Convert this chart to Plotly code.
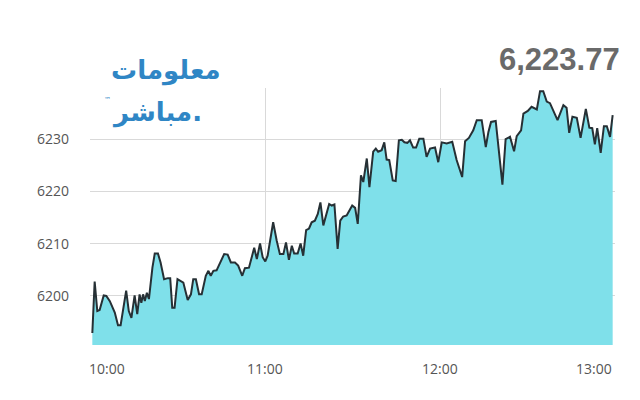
import pandas as pd
import plotly.graph_objects as go

# minutes after 10:00 and index values
minutes = [0.8, 1.6, 2.5, 3.3, 4.7, 5.6, 6.8, 8.5, 9.6, 10.5, 12.4, 13.3, 14.2, 15.3, 16.2,
           17.0, 17.6, 18.2, 18.8, 19.5, 20.2, 21.4, 22.2, 23.3, 24.2, 25.4, 26.7, 27.5,
           28.2, 29.0, 30.0, 32.0, 33.5, 34.6, 35.4, 36.3, 37.4, 38.3, 39.7, 40.6, 41.4,
           42.3, 43.4, 44.6, 46.0, 47.2, 48.3, 49.7, 50.8, 52.2, 53.1, 54.5, 55.6, 56.3,
           57.2, 58.3, 59.2, 60.1, 60.9, 62.8, 64.0, 65.1, 66.3, 67.2, 68.2, 69.2, 70.0,
           71.2, 72.2, 73.1, 74.1, 75.1, 76.0, 77.1, 78.1, 79.0, 80.0, 81.2, 82.0, 82.9,
           83.8, 84.9, 85.8, 86.8, 88.0, 88.8, 89.9, 90.9, 91.8, 92.9, 93.7, 94.9, 95.8,
           97.1, 98.0, 98.8, 100.0, 100.9, 101.7, 102.6, 103.8, 104.8, 105.9, 106.9, 107.8,
           108.8, 109.7, 110.8, 111.8, 112.9, 114.3, 115.4, 116.6, 118.3, 119.4, 120.6,
           122.3, 124.2, 125.7, 127.6, 128.6, 129.9, 131.4, 132.6, 134.3, 135.7, 136.6,
           137.5, 139.1, 141.4, 142.5, 144.0, 145.4, 146.3, 147.8, 148.6, 150.1, 151.4,
           152.3, 153.2, 154.3, 155.4, 156.6, 157.7, 160.3, 162.3, 163.4, 164.3, 165.4,
           166.9, 168.2, 170.0, 171.2, 172.2, 173.1, 173.9, 175.1, 176.2, 177.2, 178.3, 179.2]
values = [6192.9, 6202.75, 6197.1, 6197.3, 6200.1, 6200.0, 6199.0, 6196.8, 6194.4, 6194.4,
          6201.0, 6197.1, 6195.8, 6200.1, 6196.5, 6200.3, 6198.7, 6200.3, 6199.0, 6200.6,
          6199.4, 6205.4, 6208.1, 6208.1, 6206.4, 6203.2, 6203.4, 6203.4, 6197.75, 6197.75,
          6203.2, 6202.55, 6199.2, 6200.3, 6203.2, 6203.2, 6200.3, 6200.3, 6203.85, 6204.8,
          6203.85, 6204.8, 6204.9, 6206.4, 6208.0, 6207.9, 6206.4, 6206.4, 6205.8, 6203.85,
          6205.3, 6205.4, 6207.7, 6209.2, 6207.05, 6210.05, 6207.4, 6206.6, 6207.7, 6214.1,
          6210.6, 6208.0, 6208.0, 6210.25, 6206.9, 6209.6, 6208.1, 6208.1, 6210.05, 6207.7,
          6212.6, 6212.9, 6214.1, 6214.4, 6215.7, 6217.9, 6213.5, 6216.0, 6217.6, 6217.3,
          6217.5, 6209.0, 6214.4, 6215.2, 6215.4, 6216.2, 6217.3, 6216.85, 6213.8, 6223.1,
          6221.8, 6226.3, 6220.8, 6227.6, 6228.2, 6227.6, 6227.9, 6229.4, 6226.1, 6226.0,
          6222.1, 6222.0, 6229.8, 6229.9, 6229.4, 6229.3, 6229.8, 6228.4, 6228.4, 6230.1,
          6230.1, 6226.6, 6228.2, 6228.4, 6225.6, 6229.4, 6229.2, 6229.5, 6226.0, 6222.75,
          6229.6, 6230.25, 6231.7, 6233.65, 6233.65, 6228.5, 6231.4, 6233.3, 6233.5, 6221.3,
          6230.0, 6230.45, 6227.7, 6230.6, 6231.7, 6234.9, 6235.4, 6236.2, 6236.0, 6235.7,
          6239.2, 6239.2, 6237.2, 6236.9, 6233.65, 6236.5, 6236.0, 6231.2, 6234.3, 6234.1,
          6230.25, 6235.8, 6232.2, 6232.1, 6229.0, 6232.1, 6227.4, 6232.5, 6232.5, 6230.45,
          6234.6]

hour_ticks = ["10:00", "11:00", "12:00", "13:00"]
y_ticks = [6200, 6210, 6220, 6230]
last_value_label = "6,223.77"
logo_top = "معلومات"
logo_bottom = "مباشر."

base = pd.Timestamp("2024-01-01 10:00:00")
times = base + pd.to_timedelta(minutes, unit="m")
tick_times = [pd.Timestamp("2024-01-01 " + t) for t in hour_ticks]

fig = go.Figure()
fig.add_trace(go.Scatter(
    x=times, y=values, mode="lines",
    line=dict(color="#263035", width=2),
    fill="tozeroy", fillcolor="#7fe0ea",
    hoverinfo="skip",
))

fig.update_layout(
    width=632, height=392,
    margin=dict(l=82, r=25, t=80, b=55),
    paper_bgcolor="white", plot_bgcolor="white",
    showlegend=False,
    font=dict(family="Open Sans", color="#555555", size=14),
    xaxis=dict(
        range=[tick_times[0], tick_times[-1]],
        tickvals=tick_times, showticklabels=False,
        showgrid=True, gridcolor="#d9d9d9", gridwidth=1,
        zeroline=False, showline=False,
    ),
    yaxis=dict(
        range=[6190.6, 6239.8],
        tickvals=y_ticks, ticktext=[str(v) for v in y_ticks],
        showgrid=True, gridcolor="#d9d9d9", gridwidth=1,
        zeroline=False, showline=False,
        ticklabelstandoff=20,
        tickfont=dict(size=14, color="#555555"),
    ),
)

# x tick labels (ends kept inside the plot width)
anchors = ["left", "center", "center", "right"]
shifts = [-3, 0, 0, -1]
for t, lab, anc, sh in zip(tick_times, hour_ticks, anchors, shifts):
    fig.add_annotation(x=t, y=0, xref="x", yref="paper", text=lab, showarrow=False,
                       xanchor=anc, yanchor="top", yshift=-12, xshift=sh,
                       font=dict(family="Open Sans", size=14, color="#555555"))

# last value label
fig.add_annotation(x=1, y=1.109, xref="paper", yref="paper", text="<b>" + last_value_label + "</b>",
                   showarrow=False, xanchor="right", yanchor="middle", xshift=7,
                   font=dict(family="Liberation Sans", size=31, color="#6a6a6a"))

# logo text
fig.add_annotation(x=0.145, y=1.068, xref="paper", yref="paper", text="<b>" + logo_top + "</b>",
                   showarrow=False, xanchor="center", yanchor="middle",
                   font=dict(family="DejaVu Sans", size=26, color="#2f86c5"))
fig.add_annotation(x=0.128, y=0.905, xref="paper", yref="paper", text="<b>" + logo_bottom + "</b>",
                   showarrow=False, xanchor="center", yanchor="middle",
                   font=dict(family="DejaVu Sans", size=26, color="#2f86c5"))
fig.add_annotation(x=0.034, y=0.955, xref="paper", yref="paper", text="™",
                   showarrow=False, xanchor="center", yanchor="middle",
                   font=dict(family="DejaVu Sans", size=7, color="#2f86c5"))

fig.write_html("out.html")
